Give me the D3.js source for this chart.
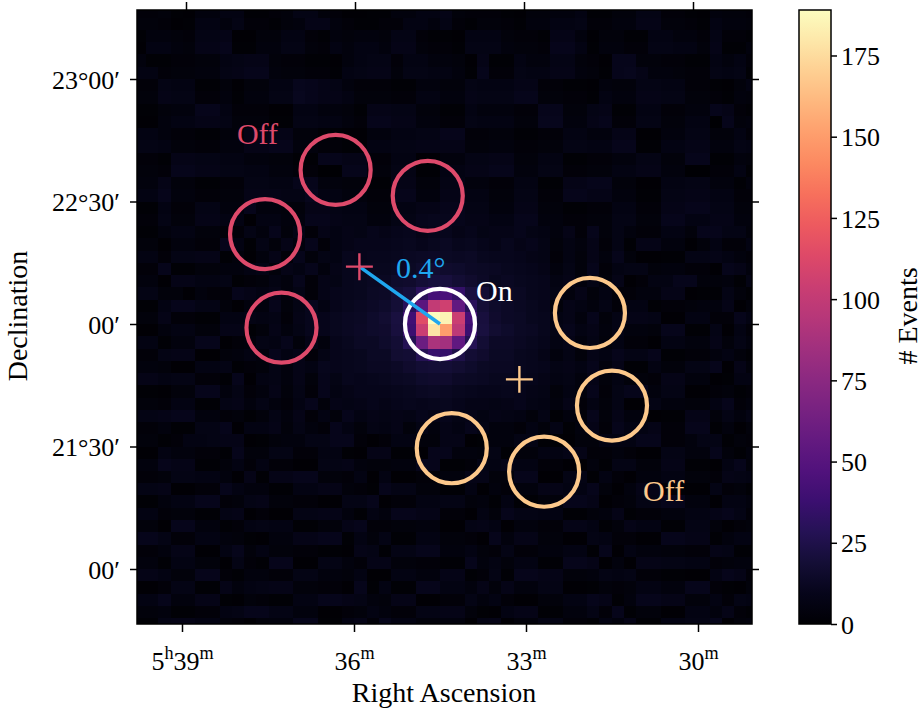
<!DOCTYPE html>
<html>
<head>
<meta charset="utf-8">
<script src="https://cdn.jsdelivr.net/npm/d3@7"></script>
<style>
body { margin: 0; background: #fff; }
svg text { font-family: "Liberation Serif", "Times New Roman", serif; }
</style>
</head>
<body>
<svg id="chart" width="924" height="711"></svg>
<script>
// counts per 0.05 deg bin, base-36 digits; "." = bright core (see peakBlock)
const countRows = [
	"3342155662" + "2347743112" + "2556684333" + "2144556224" + "4773321544" + "3",
	"4431266573" + "3245885322" + "3366573244" + "3255667335" + "5884432655" + "4",
	"2554377811" + "4466325455" + "4773221666" + "4332885144" + "2266553733" + "2",
	"1665488922" + "5577436566" + "5884332777" + "5443996255" + "3377664822" + "5",
	"5223344678" + "8433221567" + "7366554182" + "2655774319" + "9443322656" + "3",
	"6634455789" + "9544332678" + "8477665293" + "3766885429" + "a855433767" + "2",
	"3376622414" + "466a987533" + "3225544766" + "6883322154" + "4776633214" + "6",
	"4487733525" + "577b988644" + "4336655877" + "7994433265" + "5887744325" + "4",
	"2245599633" + "3116655428" + "8774422655" + "5339944782" + "2663355983" + "2",
	"1156688744" + "4227766539" + "9885533766" + "644aa55893" + "3774466094" + "5",
	"6653322447" + "7884422115" + "5667799334" + "4223366558" + "8115577446" + "3",
	"7764433558" + "8995533226" + "6778888445" + "5334477669" + "9226688557" + "6",
	"3328877665" + "5442299883" + "3661155778" + "8446622335" + "5774499225" + "4",
	"4439988776" + "6553300994" + "4772266889" + "9557733446" + "6885500336" + "2",
	"5584422337" + "7669955442" + "2884477553" + "3662288994" + "4116677552" + "5",
	"6695533448" + "8877a66553" + "3995588664" + "4773399885" + "5227788663" + "3",
	"2263377559" + "5544887664" + "4668899775" + "5884422336" + "6338899774" + "4",
	"3374488661" + "6655998775" + "5779aa9886" + "6995533447" + "7449966885" + "5",
	"2256644337" + "5947386879" + "89a89a8978" + "8976583947" + "5336649977" + "4",
	"4415533962" + "7485936899" + "9ab9bcab98" + "a897465837" + "2885514633" + "6",
	"6637788241" + "5839476a9a" + "abcdedcdba" + "a987364859" + "4112277865" + "3",
	"3392244556" + "7486958abb" + "bcdfhgfedc" + "ba98574936" + "7745533198" + "5",
	"5518866723" + "4659387abc" + "cfgjkligeb" + "cba9685748" + "1366994452" + "7",
	"7744153398" + "6857389abd" + "ei......ie" + "dca9758463" + "3558812274" + "2",
	"2269977415" + "5947a69bce" + "fj......jf" + "ecb9486573" + "6623345581" + "4",
	"4483322667" + "6738a9bcdf" + "hm......lg" + "edba685947" + "8871166339" + "6",
	"1156644882" + "4857a9bcef" + "gl......mh" + "fdca796857" + "5549922716" + "3",
	"6625599134" + "7694859bdd" + "fi......ie" + "ecb9685746" + "3316655847" + "5",
	"3378811456" + "5968379abd" + "dh......gd" + "dba8574869" + "7792233564" + "2",
	"5541166723" + "47586a9abc" + "cegijjhfdc" + "cba9786958" + "2264477918" + "4",
	"8867733291" + "6758497a9a" + "bcdfggedcb" + "ba98675846" + "4438855126" + "6",
	"2214499573" + "5847396899" + "9abcdcba99" + "a987465937" + "9957711342" + "3",
	"4436622785" + "7536948789" + "89a9ab9887" + "8976583647" + "1175544693" + "5",
	"7789955342" + "4758364968" + "7879897868" + "7647253948" + "5512288475" + "7",
	"3352277916" + "6847539647" + "6847586975" + "5364725839" + "6683399251" + "4",
	"4423667881" + "2455779931" + "3664488125" + "5772214466" + "6993357724" + "3",
	"1165533294" + "4773366218" + "8221995547" + "2446688335" + "3117755942" + "5",
	"5598822463" + "6331177854" + "4559922376" + "8663311527" + "7448822169" + "4",
	"3347766518" + "2889944361" + "6113355884" + "4991177263" + "1556644387" + "6",
	"7781133965" + "5226688432" + "9774422615" + "3558866941" + "5882211734" + "2",
	"2256699347" + "8443311779" + "1336677452" + "6224499813" + "4779955166" + "5",
	"6634422781" + "3117788526" + "5998833164" + "9776622458" + "2335566897" + "3",
	"4419955236" + "7662244893" + "3445511786" + "1553388624" + "8662277413" + "4",
	"9973366542" + "1558899264" + "7226644319" + "5884411763" + "3119988256" + "6",
	"3358811694" + "6443322187" + "2779955643" + "7335566291" + "6554433872" + "2",
	"5526644173" + "2991177538" + "8443322956" + "4662299815" + "1887766345" + "5",
	"8864499325" + "5337755461" + "1665588237" + "2998844576" + "7332211698" + "3",
	"1137722856" + "7884433192" + "6229966584" + "8557711243" + "4665599321" + "4",
	"6695588214" + "3226699875" + "4881133756" + "3114466982" + "5998844637" + "6",
	"4452233679" + "9775511346" + "5337788421" + "6882255739" + "2441166583" + "2",
	"2278866431" + "4559922683" + "9664455178" + "1447733265" + "8226677914" + "5"
];
// 6x6 core of the source (rows 23-28, cols 22-27)
const peakBlock = [
	[20, 30, 42, 45, 34, 22],
	[30, 52, 100, 106, 56, 30],
	[40, 115, 189, 184, 104, 42],
	[38, 104, 178, 150, 98, 38],
	[28, 60, 90, 86, 55, 28],
	[18, 28, 36, 35, 25, 18]
];
const peakStart = [23, 22];
const binSize = 0.05;
const gridCorner = [1.25, 1.30];   // lon, lat offset of the top-left bin corner
const countMax = 189;

// regions, as sky offsets (deg) from the source: [lon east+, lat north+]
const onRegion = [0, 0];
const offRegionsA = [[0.426, 0.629], [0.050, 0.523], [0.714, 0.367], [0.647, -0.015]];
const offRegionsB = [[-0.612, 0.045], [-0.702, -0.333], [-0.425, -0.603], [-0.048, -0.507]];
const pointings = [[0.329, 0.234], [-0.324, -0.226]];
const regionRadius = 0.143;
const crossSize = 0.055;

const raTicks = [39, 36, 33, 30];
const raLabels = ["5^h39^m", "36^m", "33^m", "30^m"];
const decTicks = [23, 22.5, 22, 21.5, 21];
const decLabels = ["23°00′", "22°30′", "00′", "21°30′", "00′"];
const cbarTicks = [0, 25, 50, 75, 100, 125, 150, 175];

const red = "#de4a6b";
const orange = "#fdc98c";
const blue = "#1fa7ef";

const frame = { x0: 137, y0: 10, x1: 752, y1: 624 };
const tickFs = 26;
const labelFs = 28;

const svg = d3.select("#chart");

const lonX = d3.scaleLinear().domain([0, 1]).range([440, 440 - 245]);
const latY = d3.scaleLinear().domain([0, 1]).range([324, 324 - 245]);
const raBottom = d3.scaleLinear().domain([39, 30]).range([182, 698]);
const raTop = d3.scaleLinear().domain([39, 30]).range([186, 693]);
const decY = d3.scaleLinear().domain([23, 21]).range([79, 569]);
const color = d3.scaleSequential(d3.interpolateMagma).domain([0, countMax]);

// build cells
let cells = [];
countRows.forEach((row, j) => {
	[...row].forEach((ch, k) => {
		let v;
		if (ch === ".") v = peakBlock[j - peakStart[0]][k - peakStart[1]];
		else v = parseInt(ch, 36);
		cells.push({ j, k, v });
	});
});

svg.append("defs").append("clipPath").attr("id", "mapClip")
	.append("rect")
	.attr("x", frame.x0).attr("y", frame.y0)
	.attr("width", frame.x1 - frame.x0).attr("height", frame.y1 - frame.y0);

const map = svg.append("g").attr("clip-path", "url(#mapClip)");

map.selectAll("rect")
	.data(cells)
	.enter()
	.append("rect")
	.attr("x", d => Math.round(lonX(gridCorner[0] - d.k * binSize)))
	.attr("y", d => Math.round(latY(gridCorner[1] - d.j * binSize)))
	.attr("width", d => Math.round(lonX(gridCorner[0] - (d.k + 1) * binSize)) - Math.round(lonX(gridCorner[0] - d.k * binSize)))
	.attr("height", d => Math.round(latY(gridCorner[1] - (d.j + 1) * binSize)) - Math.round(latY(gridCorner[1] - d.j * binSize)))
	.attr("fill", d => color(d.v))
	.attr("shape-rendering", "crispEdges");

const rPx = lonX(0) - lonX(regionRadius);

function drawCircles(list, col) {
	map.selectAll(null)
		.data(list)
		.enter()
		.append("circle")
		.attr("cx", d => lonX(d[0]))
		.attr("cy", d => latY(d[1]))
		.attr("r", rPx)
		.attr("fill", "none")
		.attr("stroke", col)
		.attr("stroke-width", 4.2);
}
drawCircles(offRegionsA, red);
drawCircles(offRegionsB, orange);
drawCircles([onRegion], "#fff");

// line pointing -> source
map.append("line")
	.attr("x1", lonX(pointings[0][0])).attr("y1", latY(pointings[0][1]))
	.attr("x2", lonX(onRegion[0])).attr("y2", latY(onRegion[1]))
	.attr("stroke", blue).attr("stroke-width", 3.5);

pointings.forEach((p, i) => {
	const c = i === 0 ? red : orange;
	map.append("path")
		.attr("d", `M${lonX(p[0] + crossSize)},${latY(p[1])}H${lonX(p[0] - crossSize)}` +
			`M${lonX(p[0])},${latY(p[1] + crossSize)}V${latY(p[1] - crossSize)}`)
		.attr("stroke", c).attr("stroke-width", 2.4).attr("fill", "none");
});

function note(txt, lon, lat, col) {
	map.append("text")
		.attr("x", lonX(lon)).attr("y", latY(lat))
		.attr("fill", col)
		.attr("font-size", 30)
		.text(txt);
}
note("Off", 0.829, 0.735, red);
note("0.4°", 0.180, 0.188, blue);
note("On", -0.147, 0.094, "#fff");
note("Off", -0.829, -0.722, orange);

// frame
svg.append("rect")
	.attr("x", frame.x0).attr("y", frame.y0)
	.attr("width", frame.x1 - frame.x0).attr("height", frame.y1 - frame.y0)
	.attr("fill", "none").attr("stroke", "#000").attr("stroke-width", 1.5);

function styleAxis(g) {
	g.select(".domain").remove();
	g.selectAll(".tick line").attr("stroke", "#000").attr("stroke-width", 1.5);
	g.attr("font-family", null).attr("font-size", tickFs);
	g.selectAll(".tick text").attr("fill", "#000");
}

function superscript(sel) {
	sel.each(function(d) {
		const t = d3.select(this);
		const lab = raLabels[raTicks.indexOf(d)];
		t.text(null);
		let up = false;
		lab.split(/(\^\w)/).filter(s => s.length).forEach(part => {
			if (part[0] === "^") {
				t.append("tspan").attr("font-size", tickFs * 0.7).attr("dy", -tickFs * 0.42).text(part.slice(1));
				up = true;
			} else {
				t.append("tspan").attr("dy", up ? tickFs * 0.42 : 0).text(part);
				up = false;
			}
		});
	});
}

svg.append("g")
	.attr("transform", `translate(0,${frame.y1})`)
	.call(d3.axisBottom(raBottom).tickValues(raTicks).tickSize(8))
	.call(styleAxis)
	.call(g => g.selectAll(".tick text").attr("y", 46).attr("dy", 0).call(superscript));

svg.append("g")
	.attr("transform", `translate(0,${frame.y0})`)
	.call(d3.axisTop(raTop).tickValues(raTicks).tickSize(8).tickFormat(""))
	.call(styleAxis);

svg.append("g")
	.attr("transform", `translate(${frame.x0},0)`)
	.call(d3.axisLeft(decY).tickValues(decTicks).tickSize(7).tickFormat((d, i) => decLabels[i]))
	.call(styleAxis)
	.call(g => g.selectAll(".tick text").attr("x", -17).attr("dy", "0.35em"));

svg.append("g")
	.attr("transform", `translate(${frame.x1},0)`)
	.call(d3.axisRight(decY).tickValues(decTicks).tickSize(7).tickFormat(""))
	.call(styleAxis);

svg.append("text")
	.attr("x", 444).attr("y", 702)
	.attr("text-anchor", "middle")
	.attr("font-size", labelFs)
	.text("Right Ascension");

svg.append("text")
	.attr("transform", "translate(27,316) rotate(-90)")
	.attr("text-anchor", "middle")
	.attr("font-size", labelFs)
	.text("Declination");

// colorbar
const cb = { x: 799, w: 32 };
const cbarY = d3.scaleLinear().domain([0, countMax]).range([frame.y1, frame.y0]);
const grad = svg.select("defs").append("linearGradient")
	.attr("id", "cbGrad")
	.attr("x1", "0%").attr("y1", "100%").attr("x2", "0%").attr("y2", "0%");
d3.range(0, 1.0001, 0.05).forEach(t => {
	grad.append("stop").attr("offset", `${t * 100}%`).attr("stop-color", d3.interpolateMagma(t));
});

svg.append("rect")
	.attr("x", cb.x).attr("y", frame.y0)
	.attr("width", cb.w).attr("height", frame.y1 - frame.y0)
	.attr("fill", "url(#cbGrad)")
	.attr("stroke", "#000").attr("stroke-width", 1.5);

svg.append("g")
	.attr("transform", `translate(${cb.x + cb.w},0)`)
	.call(d3.axisRight(cbarY).tickValues(cbarTicks).tickSize(6))
	.call(styleAxis)
	.call(g => g.selectAll(".tick text").attr("x", 10).attr("dy", "0.35em"));

svg.append("text")
	.attr("transform", "translate(917,316) rotate(-90)")
	.attr("text-anchor", "middle")
	.attr("font-size", labelFs)
	.text("# Events");
</script>
</body>
</html>
